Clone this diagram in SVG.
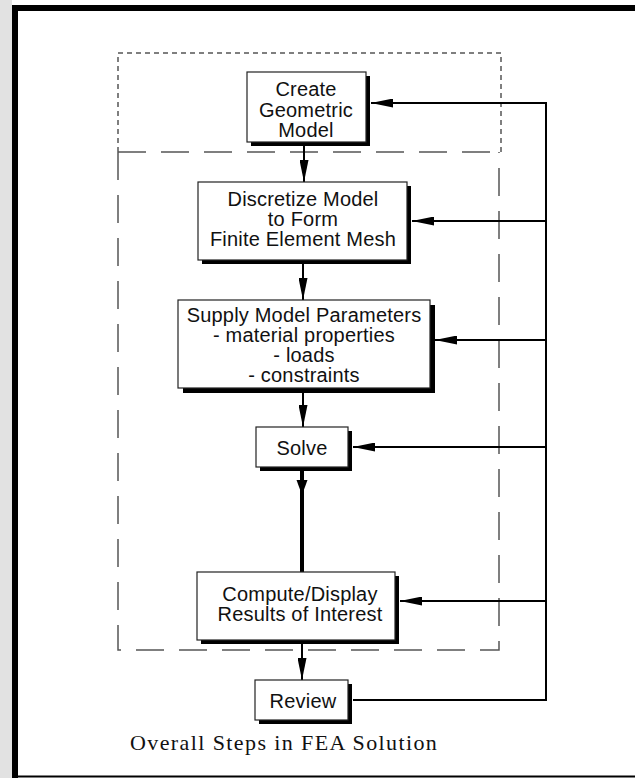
<svg xmlns="http://www.w3.org/2000/svg" width="635" height="778" viewBox="0 0 635 778">
  <style>
    .box { fill: #ffffff; stroke: #222; stroke-width: 1.2; }
    .shadow { fill: #000; }
    .label { font-family: "Liberation Sans", Arial, Helvetica, sans-serif; font-size: 20px; letter-spacing: 0.2px; fill: #111; text-anchor: middle; }
    .caption { font-family: "Liberation Serif", "Times New Roman", serif; font-size: 22px; letter-spacing: 1.4px; fill: #111; }
    .conn { stroke: #000; stroke-width: 2; fill: none; }
    .short { stroke: #555; stroke-width: 1.5; fill: none; stroke-dasharray: 5 4; }
    .long { stroke: #555; stroke-width: 1.5; fill: none; stroke-dasharray: 28 15; }
  </style>
  <defs>
    <marker id="ah" markerUnits="userSpaceOnUse" markerWidth="22" markerHeight="9" refX="22" refY="4.5" orient="auto">
      <path d="M0,0 L22,4.5 L0,9 z" fill="#000"/>
    </marker>
  </defs>
  <rect x="0" y="0" width="635" height="778" fill="#ffffff"/>
  <rect x="0" y="0" width="12" height="778" fill="#e2e2e2"/>
  <!-- frame -->
  <g id="frame">
    <rect x="12" y="5" width="623" height="6" fill="#000"/>
    <rect x="12" y="5" width="6" height="773" fill="#000"/>
    <rect x="12" y="775.5" width="623" height="2" fill="#000"/>
  </g>
  <!-- dashed regions -->
  <g id="regions">
    <path class="short" d="M118,152 L118,53 L501,53 L501,152"/>
    <path class="long" d="M118,152 L501,152"/>
    <path class="long" d="M118,152 L118,650 L499,650 L499,152"/>
  </g>
  <!-- connectors -->
  <g id="connectors">
    <line class="conn" x1="304" y1="146" x2="304" y2="182" marker-end="url(#ah)"/>
    <line class="conn" x1="303" y1="264" x2="303" y2="300" marker-end="url(#ah)"/>
    <line class="conn" x1="303" y1="393" x2="303" y2="427" marker-end="url(#ah)"/>
    <line x1="302" y1="470" x2="302" y2="572" stroke="#000" stroke-width="4"/>
    <path d="M296.5,480 L307.5,480 L302,495 z" fill="#000"/>
    <line class="conn" x1="302" y1="644" x2="302" y2="680" marker-end="url(#ah)"/>
    <path class="conn" d="M353,700 L546,700 L546,103"/>
    <line class="conn" x1="547" y1="103" x2="371" y2="103" marker-end="url(#ah)"/>
    <line class="conn" x1="546" y1="221" x2="412" y2="221" marker-end="url(#ah)"/>
    <line class="conn" x1="546" y1="340" x2="435" y2="340" marker-end="url(#ah)"/>
    <line class="conn" x1="546" y1="447" x2="353" y2="447" marker-end="url(#ah)"/>
    <line class="conn" x1="546" y1="601" x2="400" y2="601" marker-end="url(#ah)"/>
  </g>
  <!-- nodes -->
  <g id="create">
    <rect class="shadow" x="251" y="76" width="119" height="70"/>
    <rect class="box" x="247" y="72" width="119" height="70"/>
    <text class="label" x="306" y="96">Create</text>
    <text class="label" x="306" y="117">Geometric</text>
    <text class="label" x="306" y="137">Model</text>
  </g>
  <g id="discretize">
    <rect class="shadow" x="202" y="186" width="209" height="78"/>
    <rect class="box" x="198" y="182" width="209" height="78"/>
    <text class="label" x="303" y="206">Discretize Model</text>
    <text class="label" x="303" y="226">to Form</text>
    <text class="label" x="303" y="246">Finite Element Mesh</text>
  </g>
  <g id="supply">
    <rect class="shadow" x="183" y="305" width="252" height="88"/>
    <rect class="box" x="178" y="300" width="252" height="88"/>
    <text class="label" x="304" y="322">Supply Model Parameters</text>
    <text class="label" x="304" y="342">- material properties</text>
    <text class="label" x="304" y="362">- loads</text>
    <text class="label" x="304" y="382">- constraints</text>
  </g>
  <g id="solve">
    <rect class="shadow" x="260" y="431" width="92" height="40"/>
    <rect class="box" x="256" y="427" width="92" height="40"/>
    <text class="label" x="302" y="455">Solve</text>
  </g>
  <g id="compute">
    <rect class="shadow" x="201" y="576" width="198" height="68"/>
    <rect class="box" x="197" y="572" width="198" height="68"/>
    <text class="label" x="300" y="601">Compute/Display</text>
    <text class="label" x="300" y="621">Results of Interest</text>
  </g>
  <g id="review">
    <rect class="shadow" x="259" y="684" width="93" height="40"/>
    <rect class="box" x="255" y="680" width="93" height="40"/>
    <text class="label" x="303" y="708">Review</text>
  </g>
  <text class="caption" x="130" y="750">Overall Steps in FEA Solution</text>
</svg>
